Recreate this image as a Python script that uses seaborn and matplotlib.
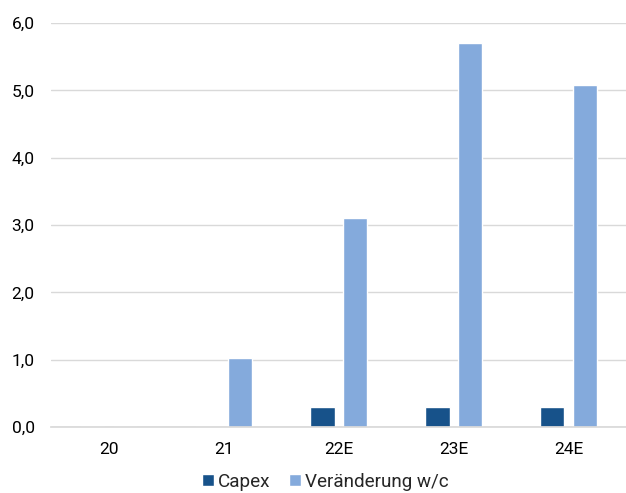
import matplotlib
matplotlib.use("Agg")
import matplotlib.pyplot as plt
import seaborn as sns
import pandas as pd
from matplotlib.ticker import FuncFormatter

categories = ["20", "21", "22E", "23E", "24E"]
capex = [0.0, 0.0, 0.30, 0.30, 0.30]
veraenderung = [0.0, 1.03, 3.10, 5.71, 5.08]
series_names = ["Capex", "Veränderung w/c"]
colors = ["#17528A", "#84AADC"]
yticks = [0, 1, 2, 3, 4, 5, 6]

df = pd.DataFrame({
    "Jahr": categories * 2,
    "Wert": capex + veraenderung,
    "Serie": [series_names[0]] * len(categories) + [series_names[1]] * len(categories),
})

sns.set_theme(style="white")
plt.rcParams["font.family"] = ["Roboto", "DejaVu Sans"]

fig = plt.figure(figsize=(6.26, 4.93), dpi=100)
ax = fig.add_axes([0.082, 0.134, 0.918, 0.819])

sns.barplot(data=df, x="Jahr", y="Wert", hue="Serie", palette=colors,
            width=0.57, gap=0.25, ax=ax, saturation=1, errorbar=None)

ax.set_ylim(0, 6)
ax.set_yticks(yticks)
ax.yaxis.set_major_formatter(FuncFormatter(lambda v, p: f"{v:.1f}".replace(".", ",")))
ax.grid(axis="y", color="#D9D9D9", linewidth=1)
ax.set_axisbelow(True)
for s in ["top", "right", "left"]:
    ax.spines[s].set_visible(False)
ax.spines["bottom"].set_color("#D9D9D9")
ax.tick_params(axis="both", length=0, labelsize=12.5, colors="#000000")
ax.tick_params(axis="x", pad=11)
ax.tick_params(axis="y", pad=12)
ax.set_xlabel("")
ax.set_ylabel("")

handles, labels = ax.get_legend_handles_labels()
ax.legend(handles, labels, loc="lower center", bbox_to_anchor=(0.477, -0.186),
          ncol=2, frameon=False, fontsize=13.6, handlelength=0.63, handleheight=0.63,
          handletextpad=0.2, columnspacing=1.0, borderpad=0.1)

fig.savefig("out.png", dpi=100)
